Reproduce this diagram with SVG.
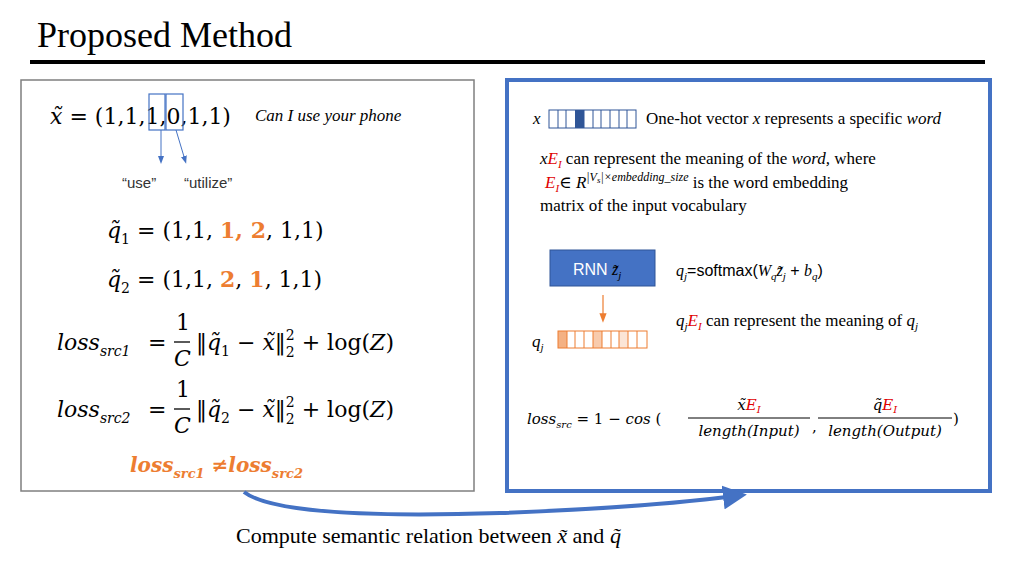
<svg xmlns="http://www.w3.org/2000/svg" width="1024" height="576" viewBox="0 0 1024 576">
<style>
.s{font-family:"Liberation Serif","Times New Roman",Tinos,"DejaVu Serif",serif;fill:#000}
.m{font-family:"DejaVu Serif","Liberation Serif",serif;fill:#000}
.i{font-style:italic}
.r{fill:#e00000}
.o{fill:#ed7d31;font-weight:bold}
.sans{font-family:"Liberation Sans",Arial,sans-serif}
</style>
<defs>
<marker id="ab" markerWidth="8" markerHeight="8" refX="4" refY="4" orient="auto"><path d="M0,1 L8,4 L0,7z" fill="#4472c4"/></marker>
<marker id="ao" markerWidth="8" markerHeight="8" refX="4" refY="4" orient="auto"><path d="M0,1 L8,4 L0,7z" fill="#ed7d31"/></marker>
<marker id="big" markerWidth="6" markerHeight="6" refX="3" refY="3" orient="auto"><path d="M0,0 L6,3 L0,6z" fill="#4472c4"/></marker>
</defs>
<rect width="1024" height="576" fill="#fff"/>
<text class="s" x="37" y="47" font-size="36">Proposed Method</text>
<line x1="30" y1="62" x2="985" y2="62" stroke="#000" stroke-width="4"/>

<g id="left">
<rect x="21" y="80" width="453" height="411" fill="none" stroke="#7f7f7f" stroke-width="1.5"/>
<text class="m" x="50" y="124" font-size="22"><tspan class="i">x̃</tspan> = (1,1,1,0,1,1)</text>
<rect x="149" y="94" width="16" height="36" fill="none" stroke="#4472c4" stroke-width="1.2"/>
<rect x="166" y="94" width="17" height="36" fill="none" stroke="#4472c4" stroke-width="1.2"/>
<text class="s i" x="255" y="121" font-size="17">Can I use your phone</text>
<text class="sans" x="122" y="188" font-size="15" fill="#333">“use”</text>
<text class="sans" x="184" y="188" font-size="15" fill="#333">“utilize”</text>
<text class="m" x="107" y="238" font-size="22"><tspan class="i">q̃</tspan><tspan font-size="14" dy="6">1</tspan><tspan dy="-6"> = (1,1, </tspan><tspan class="o">1, 2</tspan>, 1,1)</text>
<text class="m" x="107" y="287" font-size="22"><tspan class="i">q̃</tspan><tspan font-size="14" dy="6">2</tspan><tspan dy="-6"> = (1,1, </tspan><tspan class="o">2</tspan>, <tspan class="o">1</tspan>, 1,1)</text>
<text class="m i" x="57" y="350" font-size="22">loss<tspan font-size="14" dy="6">src1</tspan></text>
<text class="m" x="148" y="350" font-size="22">=</text>
<text class="m" x="176" y="330" font-size="22">1</text>
<line x1="174" y1="342" x2="190" y2="342" stroke="#000" stroke-width="1.3"/>
<text class="m i" x="174" y="366" font-size="22">C</text>
<text class="m" x="196" y="350" font-size="22">‖<tspan class="i">q̃</tspan><tspan font-size="14" dy="6">1</tspan><tspan dy="-6"> − </tspan><tspan class="i">x̃</tspan>‖<tspan font-size="14" dy="-10">2</tspan><tspan font-size="14" dx="-9" dy="17">2</tspan><tspan dy="-7"> + log(</tspan><tspan class="i">Z</tspan>)</text>
<text class="m i" x="57" y="417" font-size="22">loss<tspan font-size="14" dy="6">src2</tspan></text>
<text class="m" x="148" y="417" font-size="22">=</text>
<text class="m" x="176" y="397" font-size="22">1</text>
<line x1="174" y1="409" x2="190" y2="409" stroke="#000" stroke-width="1.3"/>
<text class="m i" x="174" y="433" font-size="22">C</text>
<text class="m" x="196" y="417" font-size="22">‖<tspan class="i">q̃</tspan><tspan font-size="14" dy="6">2</tspan><tspan dy="-6"> − </tspan><tspan class="i">x̃</tspan>‖<tspan font-size="14" dy="-10">2</tspan><tspan font-size="14" dx="-9" dy="17">2</tspan><tspan dy="-7"> + log(</tspan><tspan class="i">Z</tspan>)</text>
<text class="m i o" x="130" y="472" font-size="20">loss<tspan font-size="13" dy="6">src1</tspan><tspan dy="-6" font-style="normal"> ≠</tspan>loss<tspan font-size="13" dy="6">src2</tspan></text>
</g>

<g id="right">
<rect x="507" y="80" width="483" height="411" fill="none" stroke="#4472c4" stroke-width="4"/>
<text class="s i" x="533" y="124" font-size="17">x</text>
<g stroke="#2f5597" stroke-width="1" fill="none">
<rect x="549" y="110" width="87" height="18"/>
<line x1="558" y1="110" x2="558" y2="128"/><line x1="566" y1="110" x2="566" y2="128"/>
<line x1="584" y1="110" x2="584" y2="128"/><line x1="593" y1="110" x2="593" y2="128"/><line x1="601" y1="110" x2="601" y2="128"/><line x1="610" y1="110" x2="610" y2="128"/><line x1="619" y1="110" x2="619" y2="128"/><line x1="627" y1="110" x2="627" y2="128"/>
</g>
<rect x="575" y="110" width="9" height="18" fill="#2f5597"/>
<text class="s" x="646" y="124" font-size="17">One-hot vector <tspan class="i">x</tspan> represents a specific <tspan class="i">word</tspan></text>
<text class="s" x="540" y="164" font-size="17"><tspan class="i">x</tspan><tspan class="i r">E</tspan><tspan class="i r" font-size="11" dy="4">I</tspan><tspan dy="-4"> can represent the meaning of the </tspan><tspan class="i">word,</tspan> where</text>
<text class="s" x="545" y="188" font-size="17"><tspan class="i r">E</tspan><tspan class="i r" font-size="11" dy="4">I</tspan><tspan dy="-4">∈ </tspan><tspan class="i">R</tspan><tspan class="i" font-size="12" dy="-7">|V</tspan><tspan class="i" font-size="9" dy="2">s</tspan><tspan class="i" font-size="12" dy="-2">|×embedding_size</tspan><tspan dy="7"> is the word embedding</tspan></text>
<text class="s" x="540" y="211" font-size="17">matrix of the input vocabulary</text>
<rect x="550" y="250" width="105" height="36" fill="#4472c4" stroke="#2f5597"/>
<text class="sans" x="573" y="275" font-size="16" fill="#fff">RNN <tspan class="s i" fill="#fff">z̃</tspan><tspan class="s i" fill="#fff" font-size="11" dy="4">j</tspan></text>
<text class="sans" x="676" y="276" font-size="16"><tspan class="s i">q</tspan><tspan class="s i" font-size="11" dy="4">j</tspan><tspan dy="-4">=softmax(</tspan><tspan class="s i">W</tspan><tspan class="s i" font-size="11" dy="4">q</tspan><tspan class="s i" dy="-4">z̃</tspan><tspan class="s i" font-size="11" dy="4">j</tspan><tspan dy="-4"> + </tspan><tspan class="s i">b</tspan><tspan class="s i" font-size="11" dy="4">q</tspan><tspan dy="-4">)</tspan></text>
<line x1="603" y1="295" x2="603" y2="318" stroke="#ed7d31" stroke-width="1.2" marker-end="url(#ao)"/>
<text class="s i" x="532" y="347" font-size="17">q<tspan font-size="11" dy="4">j</tspan></text>
<rect x="558" y="331" width="9" height="17" fill="#f4b183"/>
<rect x="593" y="331" width="9" height="17" fill="#f8cbad"/>
<rect x="619" y="331" width="9" height="17" fill="#fbe5d6"/>
<g stroke="#ed7d31" stroke-width="1" fill="none">
<rect x="558" y="331" width="89" height="17"/>
<line x1="567" y1="331" x2="567" y2="348"/><line x1="575" y1="331" x2="575" y2="348"/><line x1="584" y1="331" x2="584" y2="348"/><line x1="593" y1="331" x2="593" y2="348"/><line x1="602" y1="331" x2="602" y2="348"/><line x1="611" y1="331" x2="611" y2="348"/><line x1="619" y1="331" x2="619" y2="348"/><line x1="628" y1="331" x2="628" y2="348"/><line x1="637" y1="331" x2="637" y2="348"/>
</g>
<text class="s" x="676" y="326" font-size="17"><tspan class="i">q</tspan><tspan class="i" font-size="11" dy="4">j</tspan><tspan class="i r" dy="-4">E</tspan><tspan class="i r" font-size="11" dy="4">I</tspan><tspan dy="-4"> can represent the meaning of </tspan><tspan class="i">q</tspan><tspan class="i" font-size="11" dy="4">j</tspan></text>
<text class="m" x="527" y="424" font-size="15"><tspan class="i">loss</tspan><tspan class="i" font-size="10" dy="4">src</tspan><tspan dy="-4"> = 1 − </tspan><tspan class="i">cos</tspan> (</text>
<text class="m" x="749" y="410" font-size="15" text-anchor="middle"><tspan class="i">x̃</tspan><tspan class="i r">E</tspan><tspan class="i r" font-size="10" dy="3">I</tspan></text>
<line x1="688" y1="418" x2="810" y2="418" stroke="#000" stroke-width="1"/>
<text class="m i" x="749" y="436" font-size="15" text-anchor="middle">length(Input)</text>
<text class="m" x="812" y="432" font-size="15">,</text>
<text class="m" x="885" y="410" font-size="15" text-anchor="middle"><tspan class="i">q̃</tspan><tspan class="i r">E</tspan><tspan class="i r" font-size="10" dy="3">I</tspan></text>
<line x1="818" y1="418" x2="952" y2="418" stroke="#000" stroke-width="1"/>
<text class="m i" x="885" y="436" font-size="15" text-anchor="middle">length(Output)</text>
<text class="m" x="953" y="424" font-size="15">)</text>
</g>

<g id="connectors">
<line x1="161" y1="130" x2="161" y2="160" stroke="#4472c4" stroke-width="1" marker-end="url(#ab)"/>
<line x1="176" y1="130" x2="185" y2="160" stroke="#4472c4" stroke-width="1" marker-end="url(#ab)"/>
<path d="M244,492 Q280,520 500,513 Q640,508 735,496" fill="none" stroke="#4472c4" stroke-width="4" marker-end="url(#big)"/>
</g>
<text class="s" x="236" y="543" font-size="22">Compute semantic relation between <tspan class="i">x̃</tspan> and <tspan class="i">q̃</tspan></text>
</svg>
